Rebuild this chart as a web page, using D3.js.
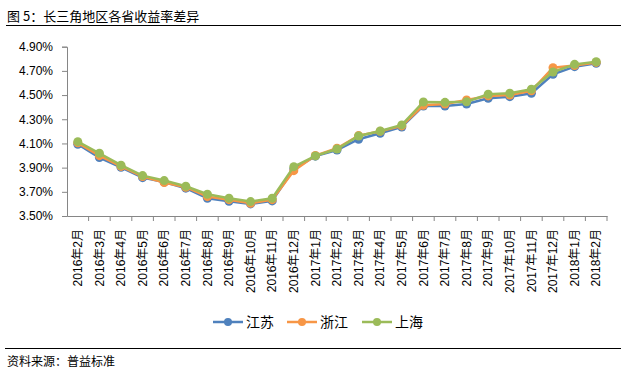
<!DOCTYPE html>
<html>
<head>
<meta charset="utf-8">
<script src="https://cdn.jsdelivr.net/npm/d3@7"></script>
<style>
  body { margin: 0; background: #fff; }
  svg { display: block; font-family: "Liberation Sans", Arial, "Noto Sans CJK SC", sans-serif; }
</style>
</head>
<body>
<script>
// Chart data
const months = ["2016年2月", "2016年3月", "2016年4月", "2016年5月", "2016年6月", "2016年7月",
  "2016年8月", "2016年9月", "2016年10月", "2016年11月", "2016年12月", "2017年1月", "2017年2月",
  "2017年3月", "2017年4月", "2017年5月", "2017年6月", "2017年7月", "2017年8月", "2017年9月",
  "2017年10月", "2017年11月", "2017年12月", "2018年1月", "2018年2月"];

const jiangsu = [4.093, 3.983, 3.903, 3.817, 3.780, 3.730, 3.647, 3.622, 3.600, 3.625, 3.890, 3.995,
  4.046, 4.135, 4.184, 4.236, 4.410, 4.410, 4.426, 4.473, 4.487, 4.515, 4.672, 4.735, 4.763];
const zhejiang = [4.105, 3.999, 3.910, 3.826, 3.776, 3.738, 3.660, 3.635, 3.605, 3.635, 3.875, 4.000,
  4.060, 4.165, 4.200, 4.245, 4.416, 4.426, 4.459, 4.493, 4.500, 4.535, 4.726, 4.745, 4.770];
const shanghai = [4.115, 4.019, 3.920, 3.834, 3.793, 3.746, 3.680, 3.647, 3.619, 3.647, 3.908, 3.997,
  4.054, 4.162, 4.203, 4.253, 4.443, 4.440, 4.445, 4.507, 4.515, 4.548, 4.691, 4.754, 4.776];

const yTicks = [3.5, 3.7, 3.9, 4.1, 4.3, 4.5, 4.7, 4.9];

const seriesNames = ["江苏", "浙江", "上海"];
const seriesValues = [jiangsu, zhejiang, shanghai];
const colors = ["#4F81BD", "#F79646", "#9BBB59"];

const W = 629, H = 377;
const plot = { left: 67, right: 607, top: 46.7, bottom: 216 };

const svg = d3.select("body")
  .append("svg")
  .attr("width", W)
  .attr("height", H);

// Title and rules
svg.append("text")
  .attr("x", 7)
  .attr("y", 21)
  .style("font-family", "'Noto Sans CJK SC', sans-serif")
  .style("font-size", "13px")
  .text("图 5：长三角地区各省收益率差异");

svg.append("line")
  .attr("x1", 6).attr("x2", 621)
  .attr("y1", 25.5).attr("y2", 25.5)
  .attr("stroke", "#000").attr("stroke-width", 1);

svg.append("line")
  .attr("x1", 5).attr("x2", 621)
  .attr("y1", 348.5).attr("y2", 348.5)
  .attr("stroke", "#000").attr("stroke-width", 1);

svg.append("text")
  .attr("x", 7)
  .attr("y", 366)
  .style("font-family", "'Noto Sans CJK SC', sans-serif")
  .style("font-size", "12px")
  .text("资料来源：普益标准");

// Scales
const x = d3.scaleBand()
  .domain(months)
  .range([plot.left, plot.right]);

const y = d3.scaleLinear()
  .domain([3.5, 4.9])
  .range([plot.bottom, plot.top]);

// Axes
const yAxis = d3.axisLeft(y)
  .tickValues(yTicks)
  .tickSize(5)
  .tickFormat(d => d.toFixed(2) + "%");

const gy = svg.append("g")
  .attr("transform", `translate(${plot.left},0)`)
  .call(yAxis);
gy.select(".domain").attr("stroke", "#868686");
gy.selectAll(".tick line").attr("stroke", "#868686");
gy.selectAll(".tick text")
  .attr("x", -14)
  .style("font-size", "12px")
  .attr("fill", "#000");

const xAxis = d3.axisBottom(x).tickSize(0).tickSizeOuter(0);
const gx = svg.append("g")
  .attr("transform", `translate(0,${plot.bottom})`)
  .call(xAxis);
gx.select(".domain").attr("stroke", "#868686");
gx.selectAll(".tick text")
  .attr("transform", "rotate(-90)")
  .attr("x", -13)
  .attr("y", 0)
  .attr("dy", "0.35em")
  .style("text-anchor", "end")
  .style("font-family", "'Liberation Sans', Arial, 'Noto Sans CJK SC', sans-serif")
  .style("font-size", "12px")
  .attr("fill", "#000");

// Boundary tick marks between categories
gx.selectAll(".bound")
  .data(months)
  .enter()
  .append("line")
  .attr("x1", d => x(d) + x.bandwidth())
  .attr("x2", d => x(d) + x.bandwidth())
  .attr("y1", 0)
  .attr("y2", 5)
  .attr("stroke", "#868686");

// Lines and markers
const line = d3.line()
  .x((d, i) => x(months[i]) + x.bandwidth() / 2)
  .y(d => y(d));

seriesValues.forEach((vals, s) => {
  const g = svg.append("g");
  g.append("path")
    .datum(vals)
    .attr("d", line)
    .attr("fill", "none")
    .attr("stroke", colors[s])
    .attr("stroke-width", 2.5);
  g.selectAll("circle")
    .data(vals)
    .enter()
    .append("circle")
    .attr("cx", (d, i) => x(months[i]) + x.bandwidth() / 2)
    .attr("cy", d => y(d))
    .attr("r", 4.5)
    .attr("fill", colors[s]);
});

// Legend
const legendX = [213, 287, 362];
const legend = svg.selectAll(".legend")
  .data(seriesNames)
  .enter()
  .append("g")
  .attr("transform", (d, i) => `translate(${legendX[i]},322)`);

legend.append("line")
  .attr("x1", 0).attr("x2", 30)
  .attr("stroke", (d, i) => colors[i])
  .attr("stroke-width", 2.5);
legend.append("circle")
  .attr("cx", 15)
  .attr("r", 4)
  .attr("fill", (d, i) => colors[i]);
legend.append("text")
  .attr("x", 33)
  .attr("dy", "0.35em")
  .style("font-family", "'Noto Sans CJK SC', sans-serif")
  .style("font-size", "14px")
  .text(d => d);
</script>
</body>
</html>
